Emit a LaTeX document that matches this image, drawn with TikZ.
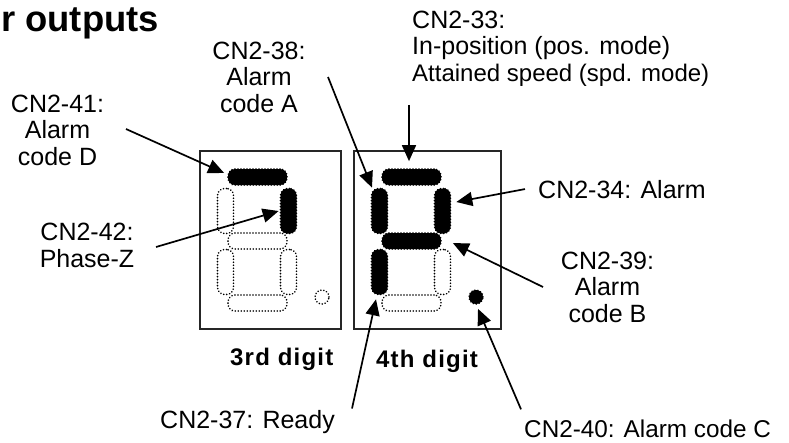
\documentclass[tikz,border=0pt]{standalone}
\usepackage{fontspec}
\setmainfont{Liberation Sans}
\usetikzlibrary{arrows.meta}
\tikzset{
  pinlabel/.style={
    inner sep=0pt, align=center, font=\fontsize{25}{26.5}\selectfont, text=black
  },
  digitname/.style={
    inner sep=0pt, anchor=base west,
    font=\fontsize{24}{26}\selectfont\bfseries\addfontfeature{LetterSpace=5}
  },
  pagetitle/.style={
    inner sep=0pt, anchor=base west, font=\fontsize{36.4}{40}\selectfont\bfseries
  },
  digitbox/.style={
    rectangle, draw=black!85, line width=1.5pt, inner sep=0pt,
    minimum height=178pt
  },
  dotborder/.style={
    draw=black, line width=1.7pt, line cap=round, dash pattern=on 0.1pt off 2.9pt,
    inner sep=0pt
  },
  hseg/.style={
    rectangle, rounded corners=7pt, dotborder, minimum width=59pt, minimum height=16pt
  },
  vseg/.style={
    rectangle, rounded corners=7pt, dotborder, minimum width=16pt, minimum height=45pt
  },
  lit/.style={fill=black},
  point/.style={
    circle, dotborder, minimum size=14pt
  },
  arrow/.style={-{Triangle[length=16pt,width=14pt]}, line width=1.7pt, color=black}
}
\begin{document}
\begin{tikzpicture}[x=1pt, y=-1pt]
  \useasboundingbox (0,0) rectangle (789,442);

  \node[pagetitle] (title) at (1,31) {r outputs};

  % 3rd digit
  \node[digitbox, minimum width=141pt] (box3) at (270.5,240) {};
  \node[hseg, lit] (top3) at (257.5,177) {};
  \node[vseg] (ul3) at (225.5,211) {};
  \node[vseg, lit] (ur3) at (288.5,211) {};
  \node[hseg] (mid3) at (257.5,241) {};
  \node[vseg] (ll3) at (225.5,272) {};
  \node[vseg] (lr3) at (288.5,272) {};
  \node[hseg] (bot3) at (257.5,303) {};
  \node[point] (dot3) at (322,297) {};

  % 4th digit
  \node[digitbox, minimum width=147pt] (box4) at (427.5,240) {};
  \node[hseg, lit] (top4) at (411.5,177) {};
  \node[vseg, lit] (ul4) at (379.5,211) {};
  \node[vseg, lit] (ur4) at (442.5,211) {};
  \node[hseg, lit] (mid4) at (411.5,241) {};
  \node[vseg, lit] (ll4) at (379.5,272) {};
  \node[vseg] (lr4) at (442.5,272) {};
  \node[hseg] (bot4) at (411.5,303) {};
  \node[point, lit] (dot4) at (476,297) {};

  \node[digitname] (name3) at (230,365) {3rd digit};
  \node[digitname] (name4) at (376,367) {4th digit};

  % pin labels
  \node[pinlabel] (lbl41) at (57.5,130) {CN2-41:\\Alarm\\code D};
  \node[pinlabel] (lbl42) at (87,245.6) {CN2-42:\\Phase-Z};
  \node[pinlabel] (lbl38) at (259,77) {CN2-38:\\Alarm\\code A};
  \node[pinlabel, align=left, anchor=west] (lbl33) at (412,48.5)
    {CN2-33:\\In-position (pos. mode)\\{\fontsize{24}{26.5}\selectfont Attained speed (spd. mode)}};
  \node[pinlabel, anchor=base west] (lbl34) at (538,198) {CN2-34: Alarm};
  \node[pinlabel] (lbl39) at (607.5,287) {CN2-39:\\Alarm\\code B};
  \node[pinlabel, anchor=base west] (lbl37) at (160,428) {CN2-37: Ready};
  \node[pinlabel, anchor=base west, font=\fontsize{24.3}{26.5}\selectfont] (lbl40) at (524,437) {CN2-40: Alarm code C};

  \draw[arrow] ([shift={(68.5,-1)}]lbl41.center) -- ([shift={(-3,-4)}]top3.west);
  \draw[arrow] ([shift={(69,1.4)}]lbl42.center)   -- ([shift={(-1,0)}]ur3.west);
  \draw[arrow] ([shift={(69,0)}]lbl38.center)     -- ([shift={(-7.5,0)}]ul4.north);
  \draw[arrow] ([shift={(-3,18.5)}]lbl33.south west) -- ([shift={(-2.5,-7)}]top4.north);
  \draw[arrow] ([shift={(-13,0)}]lbl34.west)      -- ([shift={(5,-9)}]ur4.east);
  \draw[arrow] ([shift={(-64.5,0)}]lbl39.center)  -- ([shift={(11,2)}]mid4.east);
  \draw[arrow] ([shift={(192,-13)}]lbl37.west)    -- ([shift={(-3.5,4)}]ll4.south);
  \draw[arrow] ([shift={(-3,-19)}]lbl40.west)     -- ([shift={(2,4)}]dot4.south);
\end{tikzpicture}
\end{document}
